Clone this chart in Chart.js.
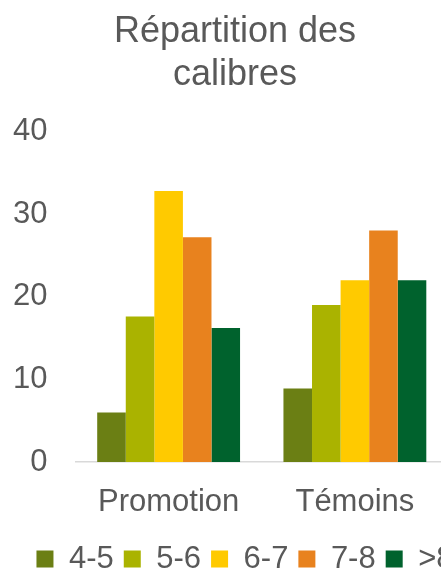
<!DOCTYPE html>
<html>
<head>
<meta charset="utf-8">
<script src="https://cdn.jsdelivr.net/npm/chart.js@4/dist/chart.umd.min.js"></script>
<style>
  html, body { margin: 0; padding: 0; background: #fff; overflow: hidden; }
  #wrap { width: 441px; height: 575px; overflow: hidden; }
  #box { width: 490px; height: 575px; }
</style>
</head>
<body>
<div id="wrap"><div id="box"><canvas id="calibres"></canvas></div></div>
<script>
// données
var categories = ["Promotion", "Témoins"];
var calibres = ["4-5", "5-6", "6-7", "7-8", ">8"];
var promotion = [6, 17.6, 32.8, 27.2, 16.2];
var temoins = [8.9, 19, 22, 28, 22];
var yTicks = [0, 10, 20, 30, 40];
var couleurs = ["#6B7F14", "#AAB300", "#FFCA00", "#E8821E", "#00622D"];

var gris = "#595959";
Chart.defaults.font.family = "'Liberation Sans', Arial, sans-serif";
Chart.defaults.color = gris;

var datasets = calibres.map(function (c, i) {
    return {
        label: c,
        data: [promotion[i], temoins[i]],
        backgroundColor: couleurs[i],
        borderWidth: 0,
        categoryPercentage: 0.767,
        barPercentage: 1
    };
});

var ctx = document.getElementById('calibres').getContext('2d');
var myChart = new Chart(ctx, {
    type: "bar",
    data: { labels: categories, datasets: datasets },
    options: {
        responsive: true,
        maintainAspectRatio: false,
        animation: false,
        layout: { padding: { left: 0, right: 0, top: 0, bottom: -9.5 } },
        plugins: {
            tooltip: { enabled: false },
            title: {
                display: true,
                // espaces finaux : décale le titre un peu à gauche de la légende
                text: ["Répartition des\u00a0\u00a0", "calibres\u00a0\u00a0"],
                color: gris,
                font: { size: 36, weight: "normal" },
                padding: { top: 10, bottom: 35 }
            },
            legend: {
                position: "bottom",
                labels: {
                    boxWidth: 17,
                    boxHeight: 17,
                    padding: 10,
                    color: gris,
                    font: { size: 31 }
                }
            }
        },
        scales: {
            x: {
                afterFit: function (axis) { axis.height = 71.5; },
                grid: { display: false, drawTicks: false },
                border: { display: true, color: "#D9D9D9", width: 1.5 },
                ticks: { padding: 21.5, color: gris, font: { size: 31 } }
            },
            y: {
                min: 0,
                max: 40,
                afterBuildTicks: function (axis) {
                    axis.ticks = yTicks.map(function (v) { return { value: v }; });
                },
                afterFit: function (axis) { axis.width = 75.5; },
                grid: { display: false, drawTicks: false },
                border: { display: false },
                ticks: { padding: 28, color: gris, font: { size: 31 } }
            },
            y2: {
                position: "right",
                min: 0,
                max: 40,
                afterFit: function (axis) { axis.width = 42; },
                grid: { display: false, drawTicks: false },
                border: { display: false },
                ticks: { display: false }
            }
        }
    }
});
</script>
</body>
</html>
